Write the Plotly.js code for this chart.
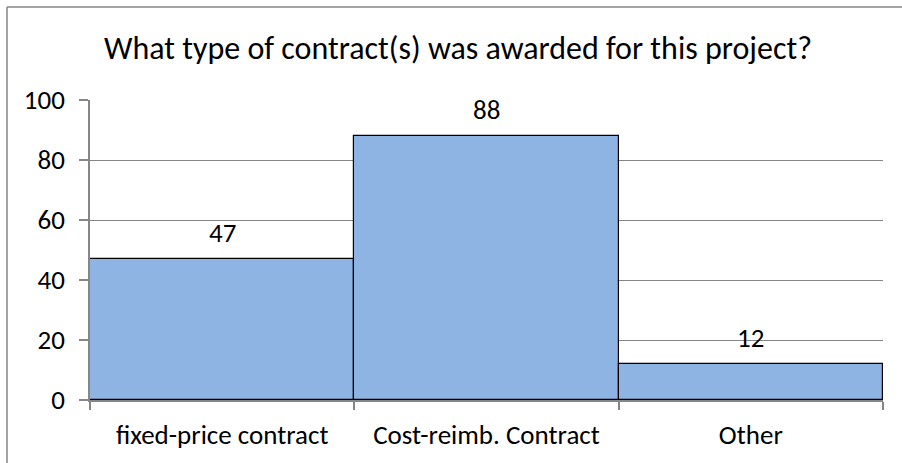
<!DOCTYPE html>
<html>
<head>
<meta charset="utf-8">
<script src="https://cdn.plot.ly/plotly-3.0.1.min.js"></script>
<style>html,body{margin:0;padding:0;background:#fff;}#chart{width:902px;height:463px;}</style>
</head>
<body>
<div id="chart"></div>
<script>
var categories = ["fixed-price contract", "Cost-reimb. Contract", "Other"];
var values = [47, 88, 12];
var yTicks = [0, 20, 40, 60, 80, 100];
var titleText = "What type of contract(s) was awarded for this project?";

var FONT = "Carlito, Lato, 'Open Sans', sans-serif";

var trace = {
  type: "bar",
  x: categories,
  y: values,
  width: 1,
  marker: {color: "#8EB4E3", line: {color: "#000000", width: 1.2}},
  hoverinfo: "x+y"
};

var annotations = categories.map(function (c, i) {
  return {
    x: c, y: values[i], xref: "x", yref: "y",
    text: String(values[i]), showarrow: false,
    yanchor: "middle", yshift: 27,
    font: {family: FONT, size: 27, color: "#000"}
  };
});

var layout = {
  width: 902, height: 463,
  margin: {l: 90, r: 19, t: 100, b: 63, pad: 0},
  paper_bgcolor: "#fff", plot_bgcolor: "#fff",
  bargap: 0,
  showlegend: false,
  title: {
    text: titleText,
    font: {family: FONT, size: 32, color: "#000"},
    x: 458 / 902, xref: "container", xanchor: "center",
    y: 1 - 48 / 463, yref: "container", yanchor: "middle"
  },
  xaxis: {
    type: "category",
    showline: true, linecolor: "#868686", linewidth: 1.5,
    ticks: "outside", tickson: "boundaries", ticklen: 8, tickcolor: "#868686", tickwidth: 1.5,
    showgrid: false,
    tickfont: {family: FONT, size: 27, color: "#000"},
    ticklabelstandoff: 10,
    fixedrange: true
  },
  yaxis: {
    range: [0, 100],
    tickvals: yTicks,
    ticktext: yTicks.map(String),
    showline: true, linecolor: "#868686", linewidth: 1.5,
    ticks: "outside", ticklen: 9, tickcolor: "#868686", tickwidth: 1.5,
    showgrid: true, gridcolor: "#868686", gridwidth: 1,
    zeroline: false,
    tickfont: {family: FONT, size: 27, color: "#000"},
    ticklabelstandoff: 9,
    fixedrange: true
  },
  annotations: annotations,
  shapes: [
    {type: "line", xref: "paper", yref: "paper",
     x0: (7 - 90) / 793, x1: (902 - 90) / 793, y0: (400 - 7) / 300, y1: (400 - 7) / 300,
     line: {color: "#868686", width: 1.5}},
    {type: "line", xref: "paper", yref: "paper",
     x0: (7 - 90) / 793, x1: (7 - 90) / 793, y0: (400 - 7) / 300, y1: (400 - 470) / 300,
     line: {color: "#868686", width: 1.5}}
  ]
};

Plotly.newPlot("chart", [trace], layout, {displayModeBar: false, staticPlot: false});
</script>
</body>
</html>
